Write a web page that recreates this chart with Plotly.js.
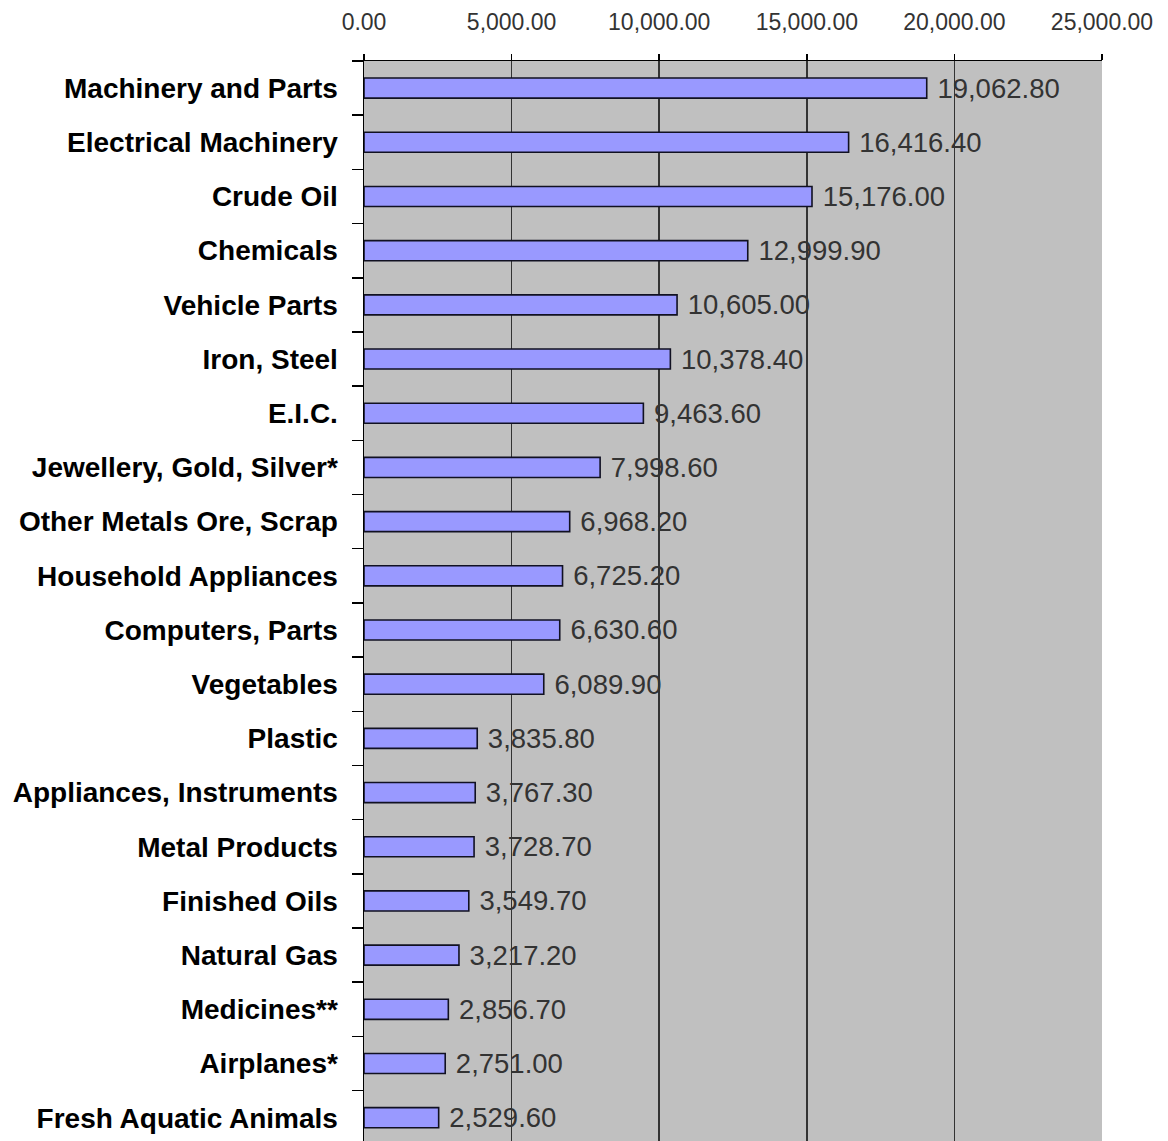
<!DOCTYPE html>
<html>
<head>
<meta charset="utf-8">
<script src="https://cdn.plot.ly/plotly-3.0.1.min.js"></script>
<style>html,body{margin:0;padding:0;background:#fff;}#chart{width:1168px;height:1141px;}</style>
</head>
<body>
<div id="chart"></div>
<script>
const categories = [
  "Machinery and Parts", "Electrical Machinery", "Crude Oil", "Chemicals",
  "Vehicle Parts", "Iron, Steel", "E.I.C.", "Jewellery, Gold, Silver*",
  "Other Metals Ore, Scrap", "Household Appliances", "Computers, Parts",
  "Vegetables", "Plastic", "Appliances, Instruments", "Metal Products",
  "Finished Oils", "Natural Gas", "Medicines**", "Airplanes*", "Fresh Aquatic Animals"
];
const values = [
  19062.80, 16416.40, 15176.00, 12999.90,
  10605.00, 10378.40, 9463.60, 7998.60,
  6968.20, 6725.20, 6630.60,
  6089.90, 3835.80, 3767.30, 3728.70,
  3549.70, 3217.20, 2856.70, 2751.00, 2529.60
];
const xTicks = [0, 5000, 10000, 15000, 20000, 25000];

const trace = {
  type: 'bar',
  orientation: 'h',
  x: values,
  y: categories,
  width: 0.37,
  marker: { color: '#9999ff', line: { color: '#111122', width: 1.6 } },
  texttemplate: '\u00A0%{x:,.2f}',
  textposition: 'outside',
  constraintext: 'none',
  cliponaxis: false,
  textfont: { family: 'Liberation Sans, Arial, sans-serif', size: 27.5, color: '#333333' },
  hoverinfo: 'skip'
};

const layout = {
  width: 1168,
  height: 1141,
  margin: { l: 364, r: 66, t: 61, b: 0 },
  paper_bgcolor: '#ffffff',
  plot_bgcolor: '#c0c0c0',
  showlegend: false,
  xaxis: {
    side: 'top',
    range: [0, 25000],
    tickvals: xTicks,
    tickformat: ',.2f',
    ticks: 'outside',
    ticklen: 6,
    tickwidth: 1.5,
    tickcolor: '#000',
    ticklabelstandoff: 14,
    showgrid: true,
    gridcolor: '#333333',
    gridwidth: 1.6,
    zeroline: false,
    showline: true,
    linecolor: '#000',
    linewidth: 1.5,
    tickfont: { family: 'Liberation Sans, Arial, sans-serif', size: 23, color: '#333333' },
    fixedrange: true
  },
  yaxis: {
    type: 'category',
    autorange: false,
    range: [19.43, -0.5],
    ticks: 'outside',
    tickson: 'boundaries',
    ticklen: 11,
    tickwidth: 1.5,
    tickcolor: '#000',
    showgrid: false,
    showline: true,
    linecolor: '#000',
    linewidth: 1.5,
    ticklabelstandoff: 19,
    tickfont: { family: 'Liberation Sans, Arial, sans-serif', size: 28, color: '#000', weight: 'bold' },
    fixedrange: true
  }
};

Plotly.newPlot('chart', [trace], layout, { displayModeBar: false, staticPlot: true });
</script>
</body>
</html>
